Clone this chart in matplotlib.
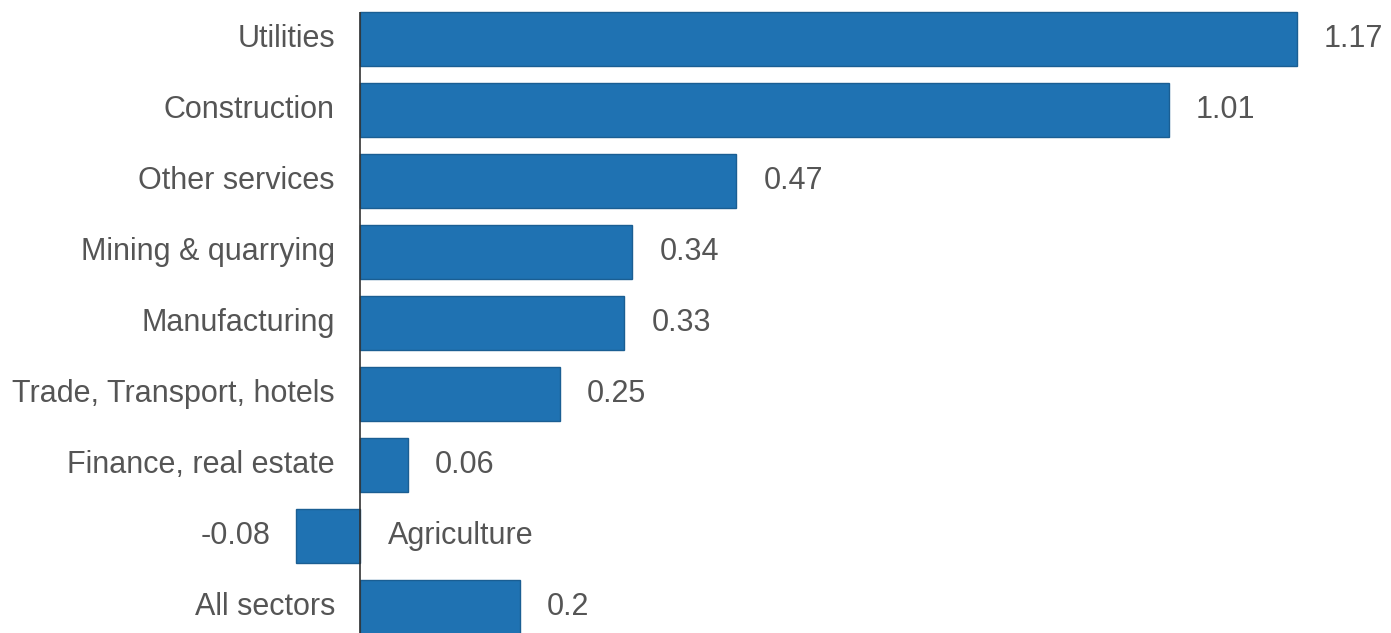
import matplotlib
matplotlib.use("Agg")
import matplotlib.pyplot as plt

sectors = ["Utilities", "Construction", "Other services", "Mining & quarrying",
           "Manufacturing", "Trade, Transport, hotels", "Finance, real estate",
           "Agriculture", "All sectors"]
values = [1.17, 1.01, 0.47, 0.34, 0.33, 0.25, 0.06, -0.08, 0.2]
value_labels = ["1.17", "1.01", "0.47", "0.34", "0.33", "0.25", "0.06", "-0.08", "0.2"]

plt.rcParams["font.family"] = ["Liberation Sans", "DejaVu Sans"]

fig = plt.figure(figsize=(13.91, 6.33), dpi=100)
ax = fig.add_axes([0, 0, 1, 1])

ypos = list(range(len(sectors)))
bar_h = 0.76
ax.barh(ypos, values, height=bar_h, color="#1f72b2", edgecolor="#1a5e93", linewidth=1)

ppu = 800.9  # pixels per unit
ax.set_xlim(-360 / ppu, (1391 - 360) / ppu)
ax.set_ylim((633 - 39) / 71, -39 / 71)

# zero line starts at top of first bar
ax.vlines(0, -bar_h / 2, ax.get_ylim()[0], color="#333333", linewidth=1.2)

off = 27 / ppu
txt = dict(fontsize=22, color="#555555", va="center")
for y, name, v, lab in zip(ypos, sectors, values, value_labels):
    if v >= 0:
        ax.text(-25 / ppu, y, name, ha="right", **txt)
        ax.text(v + off, y, lab, ha="left", **txt)
    else:
        ax.text(28 / ppu, y, name, ha="left", **txt)
        ax.text(v - 25 / ppu, y, lab, ha="right", **txt)

ax.axis("off")
fig.savefig("out.png", dpi=100)
